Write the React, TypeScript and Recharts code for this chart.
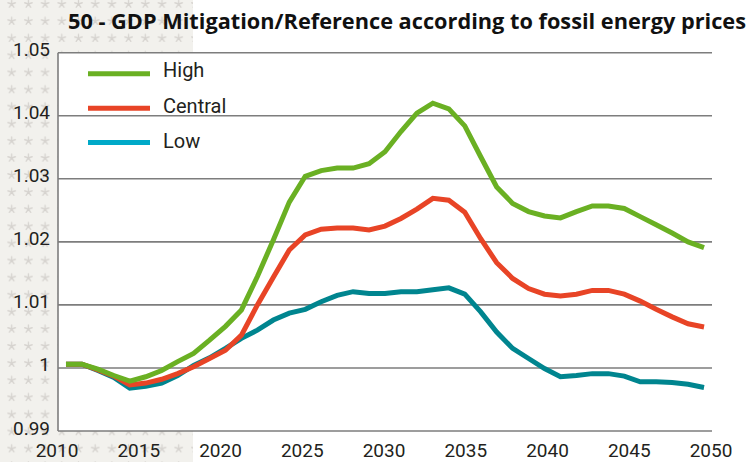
import React from "react";
import { LineChart, Line, XAxis, YAxis, CartesianGrid } from "recharts";

const years = [
  2010, 2011, 2012, 2013, 2014, 2015, 2016, 2017, 2018, 2019,
  2020, 2021, 2022, 2023, 2024, 2025, 2026, 2027, 2028, 2029,
  2030, 2031, 2032, 2033, 2034, 2035, 2036, 2037, 2038, 2039,
  2040, 2041, 2042, 2043, 2044, 2045, 2046, 2047, 2048, 2049, 2050,
];

const high = [
  1.0006, 1.0006, 0.9998, 0.9988, 0.9979, 0.9986, 0.9996, 1.001, 1.0023, 1.0044,
  1.0066, 1.0092, 1.0145, 1.0203, 1.0263, 1.0304, 1.0313, 1.0317, 1.0317, 1.0324,
  1.0343, 1.0375, 1.0404, 1.042, 1.0411, 1.0384, 1.0335, 1.0287, 1.0261, 1.0248,
  1.0241, 1.0238, 1.0248, 1.0257, 1.0257, 1.0253, 1.024, 1.0227, 1.0214, 1.02, 1.0191,
];

const central = [
  1.0006, 1.0006, 0.9997, 0.9987, 0.9973, 0.9976, 0.9982, 0.9991, 1.0002, 1.0015,
  1.0028, 1.0052, 1.01, 1.0144, 1.0187, 1.0211, 1.022, 1.0222, 1.0222, 1.0219,
  1.0225, 1.0237, 1.0252, 1.0269, 1.0266, 1.0247, 1.0205, 1.0167, 1.0142, 1.0126,
  1.0117, 1.0114, 1.0117, 1.0123, 1.0123, 1.0117, 1.0106, 1.0093, 1.0081, 1.007, 1.0065,
];

const low = [
  1.0006, 1.0006, 0.9996, 0.9985, 0.9968, 0.9971, 0.9976, 0.9988, 1.0004, 1.0016,
  1.0031, 1.0047, 1.006, 1.0076, 1.0087, 1.0093, 1.0105, 1.0115, 1.0121, 1.0118,
  1.0118, 1.0121, 1.0121, 1.0124, 1.0127, 1.0117, 1.0089, 1.0057, 1.0031, 1.0015,
  0.9999, 0.9986, 0.9988, 0.9991, 0.9991, 0.9987, 0.9978, 0.9978, 0.9977, 0.9974, 0.9969,
];

const seriesNames = ["High", "Central", "Low"];
const xTickLabels = [2010, 2015, 2020, 2025, 2030, 2035, 2040, 2045, 2050];
const yTicks = [0.99, 1, 1.01, 1.02, 1.03, 1.04, 1.05];
const yTickLabels = ["0.99", "1", "1.01", "1.02", "1.03", "1.04", "1.05"];
const title = "50 - GDP Mitigation/Reference according to fossil energy prices";

const GREEN = "#6ab023";
const RED = "#e84426";
const TEAL = "#00858f";
const LEGEND_LOW = "#00a9c8";
const GRID = "#7d7d7d";
const TEXT = "#231f20";

const data = years.map((year, i) => ({
  year,
  high: high[i],
  central: central[i],
  low: low[i],
}));

// Data points sit in category bands (41 bands), while labels span 2010..2050 edge to edge.
const X_MIN = years[0] - 0.5;
const X_MAX = years[years.length - 1] + 0.5;
const xTickPositions = xTickLabels.map(
  (y) =>
    X_MIN +
    ((y - xTickLabels[0]) * (X_MAX - X_MIN)) /
      (xTickLabels[xTickLabels.length - 1] - xTickLabels[0])
);

const XTick = (props: any) => {
  const { x, y, index } = props;
  return (
    <text
      x={x - 1}
      y={y + 26}
      textAnchor="middle"
      fontFamily="Roboto, 'Liberation Sans', sans-serif"
      fontSize={19}
      fill={TEXT}
    >
      {xTickLabels[index]}
    </text>
  );
};

const YTick = (props: any) => {
  const { x, y, index } = props;
  return (
    <text
      x={x - 8}
      y={y + 3.5}
      textAnchor="end"
      fontFamily="Roboto, 'Liberation Sans', sans-serif"
      fontSize={19}
      fill={TEXT}
    >
      {yTickLabels[index]}
    </text>
  );
};

const legendColors = [GREEN, RED, LEGEND_LOW];
const legendLineY = [73.7, 108.3, 142.5];
const legendTextY = [76.5, 112.8, 148.3];

function starPath(cx: number, cy: number, r: number) {
  let d = "";
  for (let k = 0; k < 5; k++) {
    const a = (-90 + k * 72) * (Math.PI / 180);
    d += `M${cx} ${cy}L${(cx + r * Math.cos(a)).toFixed(2)} ${(cy + r * Math.sin(a)).toFixed(2)}`;
  }
  return d;
}

export default function App() {
  return (
    <div
      style={{
        position: "absolute",
        left: 0,
        top: 0,
        width: 750,
        height: 462,
        background: "#ffffff",
        overflow: "hidden",
      }}
    >
      <svg
        width={750}
        height={462}
        style={{ position: "absolute", left: 0, top: 0 }}
      >
        <defs>
          <pattern
            id="stars"
            patternUnits="userSpaceOnUse"
            x={3.35}
            y={-4.55}
            width={16.7}
            height={17.1}
          >
            <rect width={16.7} height={17.1} fill="#f2f1ed" />
            <path
              d={starPath(8.35, 8.55, 3.9)}
              stroke="#d6d3cf"
              strokeWidth={1.3}
              strokeLinecap="round"
            />
          </pattern>
        </defs>
        <rect x={0} y={0} width={193} height={462} fill="url(#stars)" />
      </svg>

      <div style={{ position: "absolute", left: 0, top: 0 }}>
        <LineChart
          width={750}
          height={462}
          data={data}
          margin={{ top: 52.7, right: 38, bottom: 0, left: 0 }}
        >
          <CartesianGrid
            horizontal={true}
            vertical={false}
            stroke={GRID}
            strokeWidth={1.6}
            fill="#ffffff"
            fillOpacity={1}
          />
          <XAxis
            dataKey="year"
            type="number"
            domain={[X_MIN, X_MAX]}
            ticks={xTickPositions}
            interval={0}
            axisLine={false}
            tickLine={false}
            tickSize={0}
            tickMargin={0}
            height={31}
            tick={<XTick />}
          />
          <YAxis
            type="number"
            domain={[yTicks[0], yTicks[yTicks.length - 1]]}
            ticks={yTicks}
            interval={0}
            width={58}
            axisLine={{ stroke: GRID, strokeWidth: 1.6 }}
            tickLine={false}
            tickSize={0}
            tickMargin={0}
            tick={<YTick />}
          />
          <Line
            dataKey="low"
            name={seriesNames[2]}
            stroke={TEAL}
            strokeWidth={5}
            dot={false}
            activeDot={false}
            type="linear"
            isAnimationActive={false}
          />
          <Line
            dataKey="central"
            name={seriesNames[1]}
            stroke={RED}
            strokeWidth={5}
            dot={false}
            activeDot={false}
            type="linear"
            isAnimationActive={false}
          />
          <Line
            dataKey="high"
            name={seriesNames[0]}
            stroke={GREEN}
            strokeWidth={5}
            dot={false}
            activeDot={false}
            type="linear"
            isAnimationActive={false}
          />
        </LineChart>
      </div>

      <svg
        width={750}
        height={462}
        style={{ position: "absolute", left: 0, top: 0, pointerEvents: "none" }}
      >
        <text
          x={68}
          y={29.3}
          fontFamily="'Open Sans', 'DejaVu Sans', sans-serif"
          fontWeight="bold"
          fontSize={20.5}
          fill="#111111"
          textLength={678}
          lengthAdjust="spacingAndGlyphs"
        >
          {title}
        </text>
        {seriesNames.map((name, i) => (
          <g key={name}>
            <line
              x1={88}
              x2={150}
              y1={legendLineY[i]}
              y2={legendLineY[i]}
              stroke={legendColors[i]}
              strokeWidth={5}
            />
            <text
              x={163}
              y={legendTextY[i]}
              fontFamily="Roboto, 'Liberation Sans', sans-serif"
              fontSize={20}
              fill={TEXT}
            >
              {name}
            </text>
          </g>
        ))}
      </svg>
    </div>
  );
}
